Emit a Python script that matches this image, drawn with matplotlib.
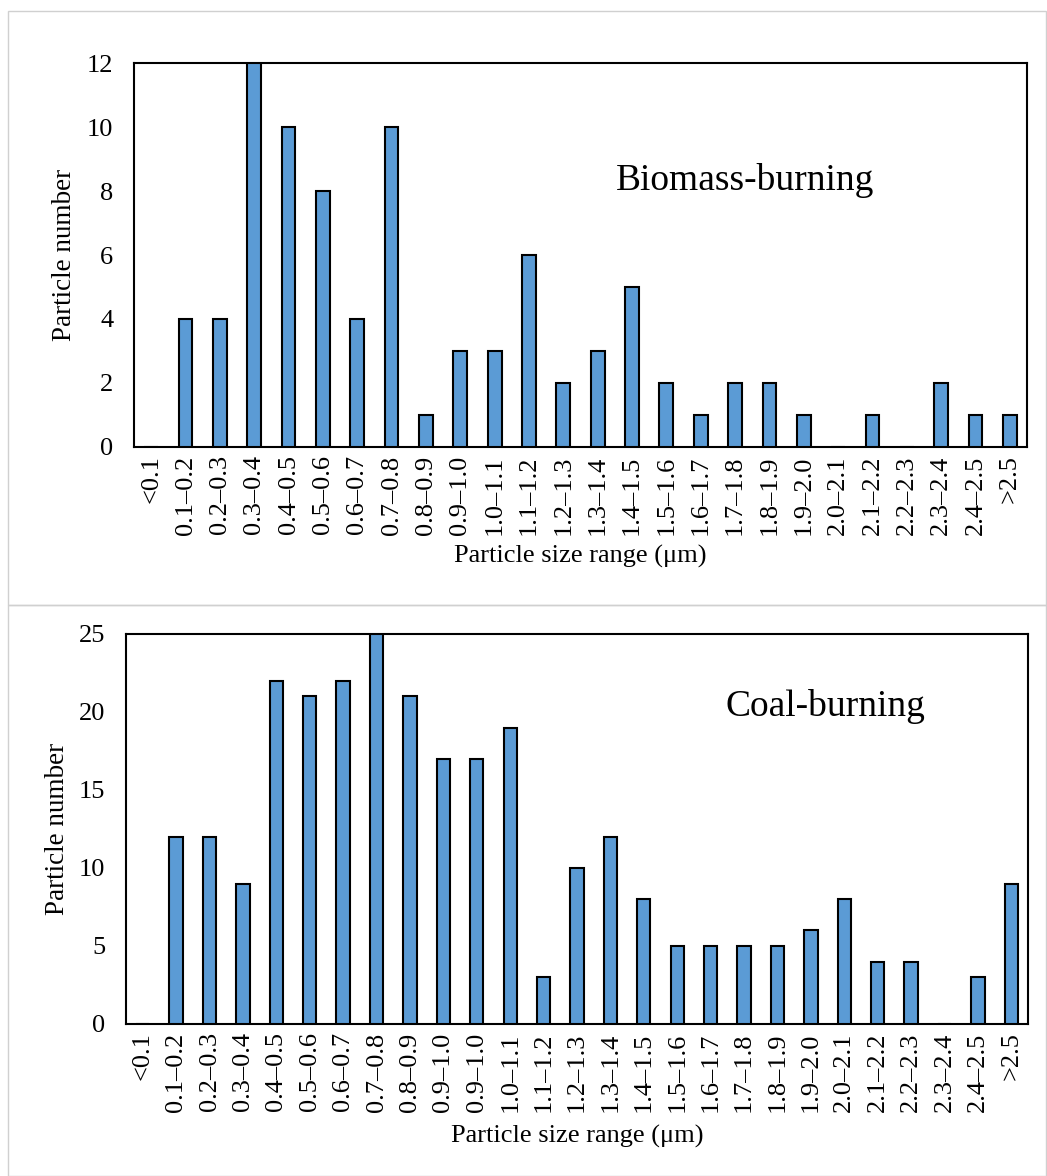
import matplotlib.pyplot as plt
from matplotlib.patches import Rectangle

plt.rcParams.update({"font.family": ["Liberation Serif", "DejaVu Serif"], "font.size": 19})

# data
bio_labels = ["<0.1", "0.1–0.2", "0.2–0.3", "0.3–0.4", "0.4–0.5", "0.5–0.6", "0.6–0.7",
              "0.7–0.8", "0.8–0.9", "0.9–1.0", "1.0–1.1", "1.1–1.2", "1.2–1.3", "1.3–1.4",
              "1.4–1.5", "1.5–1.6", "1.6–1.7", "1.7–1.8", "1.8–1.9", "1.9–2.0", "2.0–2.1",
              "2.1–2.2", "2.2–2.3", "2.3–2.4", "2.4–2.5", ">2.5"]
bio_counts = [0, 4, 4, 12, 10, 8, 4, 10, 1, 3, 3, 6, 2, 3, 5, 2, 1, 2, 2, 1, 0, 1, 0, 2, 1, 1]

coal_labels = ["<0.1", "0.1–0.2", "0.2–0.3", "0.3–0.4", "0.4–0.5", "0.5–0.6", "0.6–0.7",
               "0.7–0.8", "0.8–0.9", "0.9–1.0", "0.9–1.0", "1.0–1.1", "1.1–1.2", "1.2–1.3",
               "1.3–1.4", "1.4–1.5", "1.5–1.6", "1.6–1.7", "1.7–1.8", "1.8–1.9", "1.9–2.0",
               "2.0–2.1", "2.1–2.2", "2.2–2.3", "2.3–2.4", "2.4–2.5", ">2.5"]
coal_counts = [0, 12, 12, 9, 22, 21, 22, 25, 21, 17, 17, 19, 3, 10, 12, 8, 5, 5, 5, 5, 6, 8,
               4, 4, 0, 3, 9]

W, H = 1047, 1176
fig = plt.figure(figsize=(W / 100, H / 100), dpi=100)

# light grey frames around each panel
for y0, y1 in [(11, 605), (605, 1176)]:
    fig.add_artist(Rectangle((8 / W, 1 - y1 / H), (W - 9) / W, (y1 - y0) / H,
                             transform=fig.transFigure, fill=False,
                             edgecolor="#d0d0d0", linewidth=1))


def panel(rect, labels, counts, ymax, ystep, title, tx, ty, ylx, xly):
    l, t, r, b = rect
    ax = fig.add_axes([l / W, 1 - b / H, (r - l) / W, (b - t) / H])
    x = range(len(labels))
    ax.bar(x, counts, width=0.4, color="#5B9BD5", edgecolor="black", linewidth=1.5, zorder=3)
    ax.set_xlim(-0.5, len(labels) - 0.5)
    ax.set_ylim(0, ymax)
    ax.set_yticks(range(0, ymax + 1, ystep))
    ax.set_xticks(list(x))
    ax.set_xticklabels(labels, rotation=90)
    ax.tick_params(axis="both", length=0, labelsize=19)
    ax.tick_params(axis="x", pad=6)
    ax.tick_params(axis="y", pad=15)
    for s in ax.spines.values():
        s.set_linewidth(1.5)
    ax.set_ylabel("Particle number", fontsize=19.5)
    ax.set_xlabel("Particle size range (μm)", fontsize=19)
    ax.yaxis.set_label_coords(ylx, 0.5)
    ax.xaxis.set_label_coords(0.5, xly)
    ax.text(tx, ty, title, transform=ax.transAxes, fontsize=27, ha="center", va="center")
    return ax


panel((134, 63, 1027, 447), bio_labels, bio_counts, 12, 2, "Biomass-burning",
      0.684, 0.695, -0.064, -0.255)
panel((126, 634, 1028, 1024), coal_labels, coal_counts, 25, 5, "Coal-burning",
      0.775, 0.815, -0.062, -0.259)

fig.savefig("out.png", dpi=100)
